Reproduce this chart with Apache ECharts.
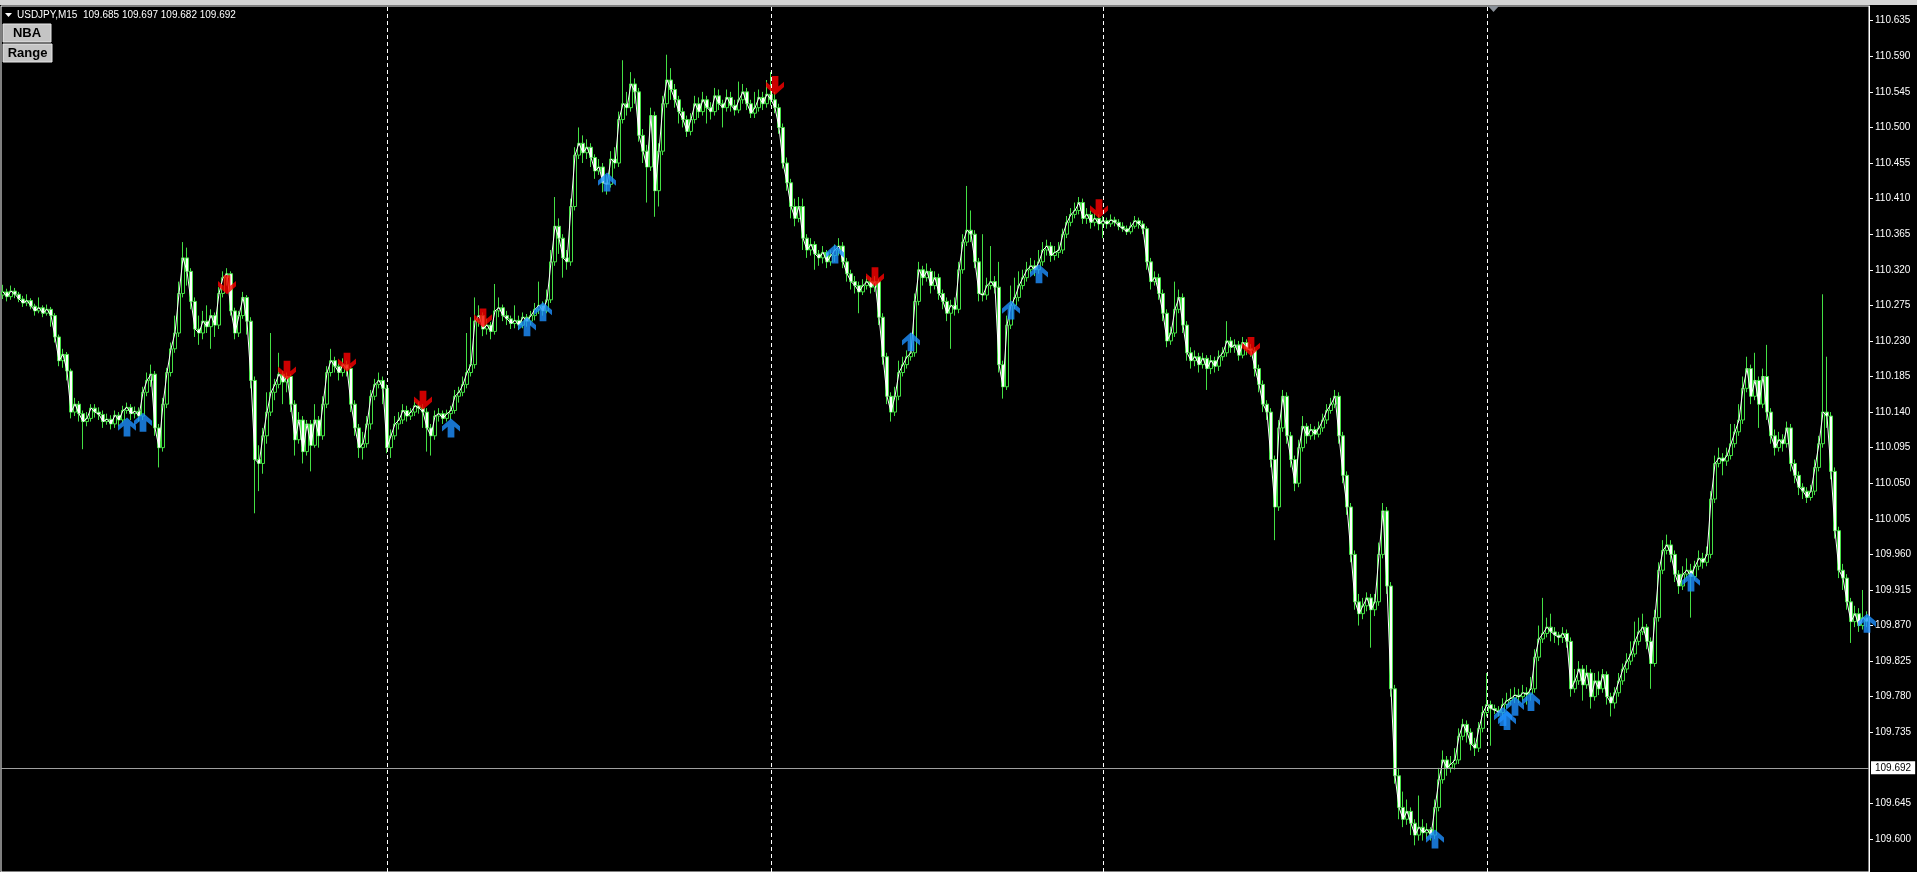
<!DOCTYPE html>
<html><head><meta charset="utf-8">
<script src="https://cdn.jsdelivr.net/npm/echarts@6/dist/echarts.min.js"></script>
<style>html,body{margin:0;padding:0;background:#000;overflow:hidden}#c{width:1917px;height:872px}</style>
</head><body><div id="c"></div>
<script>
const symbolName = 'USDJPY,M15';
const lastQuote = [109.685, 109.697, 109.682, 109.692];
const bidPrice = 109.692;
const firstOpen = 110.288;
const closes = [
110.292,110.286,110.293,110.289,110.283,110.278,110.281,110.274,110.268,110.272,
110.265,110.270,110.262,110.235,110.205,110.213,110.192,110.140,110.150,110.138,
110.128,110.132,110.145,110.140,110.137,110.128,110.131,110.125,110.136,110.130,
110.142,110.146,110.138,110.141,110.135,110.165,110.180,110.188,110.120,110.095,
110.150,110.190,110.220,110.240,110.290,110.335,110.318,110.280,110.245,110.240,
110.255,110.248,110.262,110.250,110.290,110.310,110.315,110.268,110.240,110.262,
110.285,110.255,110.180,110.080,110.075,110.110,110.140,110.165,110.175,110.188,
110.178,110.185,110.150,110.105,110.130,110.090,110.125,110.098,110.130,110.110,
110.150,110.190,110.205,110.198,110.190,110.200,110.195,110.150,110.120,110.095,
110.100,110.125,110.160,110.175,110.180,110.170,110.095,110.110,110.125,110.130,
110.142,110.135,110.140,110.148,110.145,110.140,110.120,110.110,110.135,110.138,
110.132,110.138,110.142,110.160,110.165,110.175,110.190,110.200,110.255,110.262,
110.245,110.250,110.242,110.268,110.272,110.262,110.258,110.252,110.256,110.250,
110.260,110.255,110.262,110.270,110.275,110.268,110.282,110.330,110.375,110.360,
110.335,110.330,110.400,110.465,110.480,110.468,110.475,110.462,110.445,110.450,
110.430,110.428,110.460,110.455,110.510,110.530,110.525,110.555,110.545,110.490,
110.470,110.450,110.515,110.420,110.470,110.530,110.560,110.548,110.535,110.520,
110.510,110.495,110.510,110.530,110.520,110.535,110.525,110.520,110.540,110.530,
110.525,110.538,110.528,110.522,110.535,110.545,110.530,110.518,110.525,110.538,
110.530,110.542,110.535,110.525,110.500,110.455,110.430,110.400,110.385,110.400,
110.360,110.345,110.352,110.340,110.335,110.342,110.330,110.338,110.345,110.350,
110.330,110.315,110.305,110.300,110.292,110.300,110.305,110.298,110.305,110.260,
110.210,110.160,110.140,110.160,110.190,110.200,110.210,110.215,110.280,110.320,
110.310,110.318,110.300,110.310,110.290,110.280,110.265,110.275,110.270,110.320,
110.355,110.370,110.365,110.330,110.290,110.288,110.300,110.305,110.298,110.200,
110.172,110.250,110.275,110.285,110.300,110.310,110.320,110.325,110.320,110.330,
110.345,110.350,110.338,110.342,110.345,110.365,110.380,110.390,110.395,110.405,
110.385,110.390,110.380,110.385,110.378,110.382,110.378,110.383,110.380,110.375,
110.372,110.368,110.375,110.382,110.378,110.372,110.330,110.305,110.310,110.290,
110.265,110.230,110.240,110.270,110.285,110.250,110.215,110.205,110.210,110.200,
110.208,110.195,110.205,110.198,110.210,110.215,110.230,110.222,110.225,110.212,
110.228,110.220,110.218,110.195,110.175,110.150,110.140,110.080,110.020,110.120,
110.160,110.110,110.080,110.050,110.095,110.122,110.110,110.118,110.112,110.120,
110.130,110.142,110.150,110.160,110.110,110.060,110.020,109.960,109.900,109.885,
109.895,109.905,109.890,109.900,109.960,110.015,109.920,109.790,109.680,109.640,
109.625,109.635,109.620,109.605,109.615,109.608,109.612,109.605,109.640,109.675,
109.700,109.690,109.695,109.700,109.730,109.745,109.735,109.720,109.715,109.740,
109.760,109.770,109.765,109.763,109.760,109.770,109.775,109.778,109.782,109.780,
109.785,109.783,109.790,109.830,109.853,109.860,109.868,109.862,109.858,109.855,
109.860,109.850,109.790,109.800,109.815,109.795,109.810,109.780,109.800,109.790,
109.808,109.780,109.772,109.785,109.800,109.815,109.825,109.834,109.850,109.862,
109.868,109.850,109.822,109.880,109.940,109.965,109.972,109.960,109.935,109.920,
109.935,109.940,109.932,109.945,109.955,109.950,109.960,110.030,110.075,110.082,
110.078,110.085,110.100,110.115,110.130,110.170,110.195,110.160,110.180,110.150,
110.185,110.140,110.110,110.095,110.105,110.100,110.120,110.075,110.060,110.045,
110.040,110.032,110.040,110.070,110.100,110.140,110.135,110.065,109.990,109.940,
109.930,109.900,109.875,109.885,109.870,109.880,109.875
];
const highs = [
110.301,110.296,110.300,110.297,110.292,110.287,110.289,110.284,110.277,110.285,
110.275,110.276,110.273,110.265,110.238,110.220,110.216,110.195,110.158,110.154,
110.142,110.140,110.150,110.150,110.146,110.142,110.138,110.136,110.142,110.140,
110.148,110.152,110.150,110.147,110.146,110.172,110.190,110.200,110.192,110.125,
110.158,110.196,110.228,110.262,110.305,110.355,110.348,110.322,110.285,110.262,
110.268,110.275,110.270,110.266,110.298,110.318,110.322,110.318,110.272,110.268,
110.292,110.288,110.260,110.185,110.098,110.120,110.165,110.240,110.182,110.215,
110.192,110.190,110.188,110.155,110.140,110.135,110.130,110.130,110.150,110.135,
110.160,110.198,110.220,110.210,110.202,110.208,110.205,110.198,110.155,110.125,
110.115,110.135,110.168,110.182,110.190,110.185,110.175,110.118,110.135,110.140,
110.150,110.148,110.145,110.155,110.153,110.150,110.145,110.125,110.142,110.145,
110.142,110.143,110.148,110.168,110.172,110.185,110.240,110.260,110.285,110.275,
110.266,110.258,110.254,110.302,110.285,110.276,110.268,110.262,110.275,110.262,
110.266,110.264,110.268,110.278,110.305,110.280,110.295,110.345,110.412,110.385,
110.365,110.345,110.410,110.475,110.500,110.490,110.485,110.480,110.466,110.460,
110.455,110.440,110.470,110.475,110.520,110.585,110.545,110.570,110.562,110.550,
110.498,110.478,110.525,110.520,110.480,110.540,110.592,110.575,110.555,110.540,
110.525,110.515,110.518,110.540,110.538,110.545,110.540,110.532,110.550,110.548,
110.535,110.548,110.545,110.535,110.558,110.555,110.550,110.535,110.545,110.548,
110.545,110.560,110.570,110.545,110.530,110.505,110.462,110.435,110.410,110.412,
110.410,110.365,110.360,110.356,110.345,110.350,110.345,110.345,110.352,110.360,
110.355,110.335,110.320,110.312,110.305,110.308,110.312,110.310,110.312,110.308,
110.265,110.215,110.165,110.172,110.205,110.210,110.218,110.240,110.290,110.330,
110.325,110.328,110.322,110.318,110.315,110.295,110.285,110.282,110.285,110.330,
110.365,110.426,110.395,110.370,110.335,110.365,110.310,110.350,110.312,110.330,
110.205,110.262,110.300,110.310,110.318,110.320,110.330,110.335,110.332,110.345,
110.355,110.358,110.355,110.350,110.355,110.372,110.388,110.398,110.405,110.412,
110.410,110.398,110.395,110.392,110.390,110.388,110.386,110.390,110.387,110.384,
110.380,110.376,110.380,110.388,110.386,110.382,110.375,110.335,110.318,110.315,
110.295,110.270,110.248,110.305,110.295,110.290,110.255,110.222,110.218,110.215,
110.215,110.212,110.212,110.210,110.218,110.222,110.255,110.235,110.232,110.230,
110.235,110.232,110.226,110.222,110.200,110.180,110.155,110.145,110.085,110.130,
110.168,110.165,110.115,110.085,110.105,110.135,110.126,110.125,110.122,110.128,
110.138,110.150,110.158,110.168,110.165,110.115,110.065,110.025,109.965,109.910,
109.905,109.912,109.910,109.910,109.975,110.025,110.020,109.925,109.795,109.690,
109.660,109.650,109.640,109.625,109.655,109.625,109.620,109.615,109.650,109.690,
109.712,109.705,109.705,109.715,109.740,109.752,109.750,109.740,109.728,109.748,
109.768,109.810,109.775,109.770,109.768,109.778,109.785,109.790,109.792,109.790,
109.795,109.792,109.805,109.840,109.870,109.905,109.880,109.885,109.868,109.862,
109.868,109.865,109.855,109.815,109.825,109.820,109.820,109.815,109.810,109.812,
109.815,109.812,109.785,109.792,109.810,109.822,109.835,109.850,109.875,109.880,
109.885,109.872,109.855,109.890,109.950,109.978,109.985,109.978,109.965,109.940,
109.945,109.955,109.948,109.952,109.965,109.962,109.970,110.040,110.085,110.095,
110.088,110.095,110.125,110.125,110.150,110.185,110.210,110.200,110.215,110.185,
110.195,110.225,110.145,110.118,110.115,110.112,110.128,110.125,110.080,110.065,
110.050,110.045,110.048,110.080,110.110,110.289,110.210,110.140,110.070,109.995,
109.948,109.935,109.905,109.895,109.892,109.915,109.888
];
const lows = [
110.283,110.280,110.282,110.284,110.279,110.273,110.274,110.270,110.262,110.265,
110.260,110.262,110.248,110.228,110.198,110.196,110.180,110.132,110.135,110.128,
110.093,110.122,110.128,110.133,110.130,110.120,110.124,110.118,110.120,110.122,
110.126,110.138,110.130,110.132,110.128,110.130,110.160,110.172,110.110,110.070,
110.090,110.145,110.185,110.215,110.235,110.285,110.300,110.270,110.235,110.225,
110.232,110.240,110.220,110.235,110.245,110.285,110.300,110.262,110.232,110.235,
110.258,110.238,110.170,110.012,110.040,110.062,110.100,110.135,110.155,110.170,
110.150,110.165,110.140,110.085,110.100,110.075,110.085,110.065,110.095,110.095,
110.105,110.145,110.185,110.190,110.180,110.185,110.185,110.140,110.110,110.082,
110.080,110.095,110.118,110.155,110.170,110.150,110.088,110.082,110.105,110.118,
110.125,110.128,110.130,110.135,110.138,110.120,110.090,110.085,110.105,110.128,
110.125,110.128,110.130,110.138,110.152,110.160,110.170,110.185,110.195,110.248,
110.236,110.238,110.232,110.238,110.260,110.255,110.250,110.245,110.246,110.244,
110.246,110.248,110.250,110.256,110.264,110.262,110.265,110.278,110.325,110.340,
110.310,110.320,110.325,110.395,110.460,110.455,110.460,110.450,110.435,110.440,
110.418,110.415,110.424,110.448,110.450,110.505,110.515,110.520,110.530,110.482,
110.455,110.405,110.445,110.387,110.400,110.465,110.525,110.535,110.525,110.505,
110.500,110.488,110.490,110.505,110.512,110.515,110.505,110.510,110.515,110.522,
110.500,110.520,110.520,110.515,110.518,110.530,110.522,110.512,110.512,110.520,
110.522,110.525,110.528,110.518,110.492,110.448,110.420,110.385,110.375,110.380,
110.345,110.335,110.338,110.320,110.325,110.328,110.322,110.325,110.330,110.338,
110.322,110.305,110.295,110.290,110.265,110.288,110.295,110.290,110.292,110.250,
110.200,110.150,110.128,110.135,110.155,110.185,110.195,110.205,110.210,110.275,
110.300,110.305,110.290,110.295,110.282,110.270,110.255,110.220,110.262,110.265,
110.315,110.350,110.355,110.322,110.280,110.280,110.282,110.295,110.290,110.190,
110.157,110.168,110.245,110.270,110.280,110.295,110.305,110.315,110.312,110.315,
110.325,110.338,110.330,110.332,110.335,110.340,110.360,110.375,110.385,110.390,
110.378,110.378,110.372,110.375,110.370,110.360,110.372,110.374,110.375,110.370,
110.368,110.364,110.365,110.372,110.372,110.365,110.320,110.295,110.300,110.282,
110.255,110.222,110.225,110.235,110.265,110.240,110.205,110.195,110.198,110.190,
110.195,110.168,110.188,110.190,110.192,110.205,110.210,110.215,110.215,110.205,
110.208,110.212,110.210,110.185,110.165,110.140,110.130,110.070,109.978,110.015,
110.115,110.100,110.070,110.040,110.045,110.090,110.100,110.105,110.105,110.108,
110.115,110.125,110.138,110.145,110.100,110.050,110.010,109.950,109.890,109.870,
109.878,109.888,109.842,109.882,109.895,109.955,109.910,109.780,109.670,109.625,
109.615,109.618,109.605,109.592,109.598,109.598,109.600,109.598,109.600,109.635,
109.670,109.680,109.684,109.688,109.695,109.725,109.722,109.712,109.705,109.710,
109.735,109.755,109.718,109.758,109.755,109.755,109.765,109.770,109.772,109.772,
109.775,109.770,109.775,109.785,109.825,109.848,109.855,109.850,109.848,109.845,
109.848,109.842,109.780,109.785,109.795,109.775,109.790,109.765,109.775,109.782,
109.785,109.770,109.755,109.765,109.780,109.795,109.810,109.820,109.830,109.845,
109.858,109.840,109.790,109.818,109.875,109.935,109.960,109.950,109.925,109.910,
109.915,109.930,109.880,109.928,109.940,109.942,109.945,109.955,110.025,110.070,
110.060,110.072,110.080,110.095,110.110,110.125,110.165,110.150,110.155,110.120,
110.145,110.130,110.100,110.085,110.090,110.090,110.095,110.065,110.050,110.035,
110.030,110.025,110.028,110.035,110.065,110.095,110.120,110.055,109.980,109.930,
109.915,109.890,109.848,109.868,109.862,109.865,109.868
];
const upArrows = [[31,110.133],[35,110.139],[112,110.132],[131,110.260],[135,110.279],[151,110.443],[208,110.352],[227,110.241],[252,110.281],[259,110.327],[358,109.612],[375,109.767],[376,109.762],[378,109.780],[382,109.786],[422,109.937],[466,109.885]];
const downArrows = [[56,110.289],[71,110.181],[86,110.191],[105,110.143],[120,110.247],[193,110.541],[218,110.299],[274,110.385],[312,110.211]];
const separatorBars = [96, 192, 275, 371];
const yTicks = [110.635,110.590,110.545,110.500,110.455,110.410,110.365,110.320,110.275,110.230,110.185,110.140,110.095,110.050,110.005,109.960,109.915,109.870,109.825,109.780,109.735,109.645,109.600];

const categories = closes.map((_, i) => String(i));
const candles = closes.map((c, i) => {
  const o = i === 0 ? firstOpen : closes[i - 1];
  const h = Math.max(highs[i], o, c);
  const l = Math.min(lows[i], o, c);
  return [o, c, l, h];
});

const GREEN = '#44e044';
const UP_PATH = 'path://M8,0 L16,7.5 L16,12.5 L11,8 L11,18 L5,18 L5,8 L0,12.5 L0,7.5 Z';
const DOWN_PATH = 'path://M8,18 L16,10.5 L16,5.5 L11,10 L11,0 L5,0 L5,10 L0,5.5 L0,10.5 Z';

const chart = echarts.init(document.getElementById('c'), null, {renderer: 'canvas'});
chart.setOption({
  backgroundColor: '#000',
  animation: false,
  grid: {left: 1, right: 48, top: 6, bottom: -1, show: true, borderColor: '#ffffff', borderWidth: 1, backgroundColor: '#000'},
  xAxis: {type: 'category', data: categories, boundaryGap: true, show: false},
  yAxis: {
    type: 'value', position: 'right', min: 109.5583, max: 110.6536, scale: true,
    splitLine: {show: false},
    axisLine: {show: true, lineStyle: {color: '#ffffff', width: 1}},
    axisTick: {show: true, inside: false, length: 4, customValues: yTicks, lineStyle: {color: '#ffffff'}},
    axisLabel: {show: true, customValues: yTicks, color: '#ffffff', fontSize: 10, fontFamily: 'Liberation Sans', margin: 6,
      formatter: v => Number(v).toFixed(3)}
  },
  series: [
    {
      type: 'line', data: closes.map(() => null), silent: true, symbol: 'none', z: 1,
      markLine: {silent: true, symbol: 'none', label: {show: false},
        lineStyle: {color: '#ffffff', width: 1, type: [4, 3]},
        data: separatorBars.map(b => ({xAxis: categories[b]}))}
    },
    {
      type: 'candlestick', data: candles, barWidth: 3, z: 2, silent: true,
      itemStyle: {color: '#000000', color0: '#ffffff', borderColor: GREEN, borderColor0: GREEN, borderWidth: 1},
      markLine: {silent: true, symbol: 'none',
        lineStyle: {color: '#a0a0a0', width: 1, type: 'solid'},
        label: {show: true, position: 'end', formatter: bidPrice.toFixed(3), color: '#000', backgroundColor: '#fff',
          padding: [2, 4, 1, 4], fontSize: 10, fontFamily: 'Liberation Sans', distance: 2},
        data: [{yAxis: bidPrice}]}
    },
    {
      type: 'line', data: closes, symbol: 'none', z: 3, silent: true,
      lineStyle: {color: '#ffffff', width: 1}
    },
    {
      type: 'scatter', data: upArrows, symbol: UP_PATH, symbolKeepAspect: false, symbolSize: [18, 19], symbolOffset: [0, '50%'],
      itemStyle: {color: '#1e90ff'}, z: 4, silent: true
    },
    {
      type: 'scatter', data: downArrows, symbol: DOWN_PATH, symbolKeepAspect: false, symbolSize: [18, 19], symbolOffset: [0, '-50%'],
      itemStyle: {color: '#ff0000'}, z: 4, silent: true
    }
  ],
  graphic: [
    {type: 'rect', shape: {x: 0, y: 0, width: 1917, height: 5}, style: {fill: '#d4d4d4'}, z: 10},
    {type: 'polygon', shape: {points: [[1488, 6], [1499, 6], [1493.5, 12]]}, style: {fill: '#8a9098'}, z: 10},
    {type: 'polygon', shape: {points: [[5, 13], [12, 13], [8.5, 17]]}, style: {fill: '#ffffff'}, z: 10},
    {type: 'text', x: 17, y: 15.5, style: {text: symbolName + '  ' + lastQuote.map(v => v.toFixed(3)).join(' '),
      fill: '#ffffff', font: '10px "Liberation Sans"', verticalAlign: 'middle'}, z: 10},
    {type: 'rect', shape: {x: 3, y: 24, width: 48, height: 18}, style: {fill: '#c4c4c4', stroke: '#e8e8e8', lineWidth: 1}, z: 10},
    {type: 'text', x: 27, y: 33, style: {text: 'NBA', fill: '#000', font: 'bold 13px "Liberation Sans"', align: 'center', verticalAlign: 'middle'}, z: 11},
    {type: 'rect', shape: {x: 3, y: 44, width: 49, height: 18}, style: {fill: '#c4c4c4', stroke: '#e8e8e8', lineWidth: 1}, z: 10},
    {type: 'text', x: 27.5, y: 53, style: {text: 'Range', fill: '#000', font: 'bold 13px "Liberation Sans"', align: 'center', verticalAlign: 'middle'}, z: 11}
  ]
});
</script></body></html>
